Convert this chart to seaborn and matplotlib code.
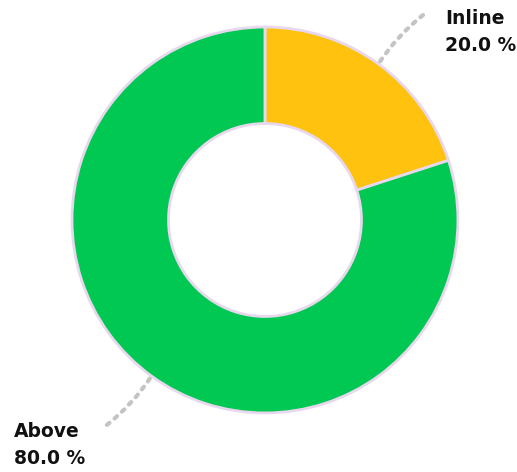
import matplotlib
matplotlib.use("Agg")
import matplotlib.pyplot as plt
import numpy as np
import seaborn as sns

labels = ["Inline", "Above"]
shares = [20.0, 80.0]
colors = ["#FFC20E", "#00C853"]

sns.set_style("white")
plt.rcParams["font.family"] = ["DejaVu Sans"]

fig = plt.figure(figsize=(5.17, 4.72), dpi=100)
ax = fig.add_axes([0, 0, 1, 1])

wedges, _ = ax.pie(
    shares,
    colors=colors,
    startangle=90,
    counterclock=False,
    radius=1.0,
    wedgeprops=dict(width=0.5, edgecolor="#E8D8EE", linewidth=2),
)
ax.set_xlim(-1.373, 1.306)
ax.set_ylim(-1.306, 1.140)
ax.set_aspect("equal")
ax.axis("off")

# label positions (data coords) for each slice
text_pos = [(0.933, 0.974), (-1.30, -1.166)]
line_end = [(0.819, 1.062), (-0.819, -1.062)]

for w, lab, val, tp, le in zip(wedges, labels, shares, text_pos, line_end):
    mid = np.deg2rad((w.theta1 + w.theta2) / 2)
    start = (np.cos(mid), np.sin(mid))
    ax.annotate(
        "",
        xy=start,
        xytext=le,
        arrowprops=dict(
            arrowstyle="-",
            color="#C4C4C4",
            lw=3,
            linestyle=(0, (0.8, 1.6)),
            connectionstyle="arc3,rad=0.08",
            shrinkA=0,
            shrinkB=0,
        ),
    )
    ax.text(tp[0], tp[1], f"{lab}\n{val:.1f} %", ha="left", va="center",
            fontsize=13.5, fontweight="bold", color="#111111", linespacing=1.5)

fig.savefig("out.png", dpi=100)
